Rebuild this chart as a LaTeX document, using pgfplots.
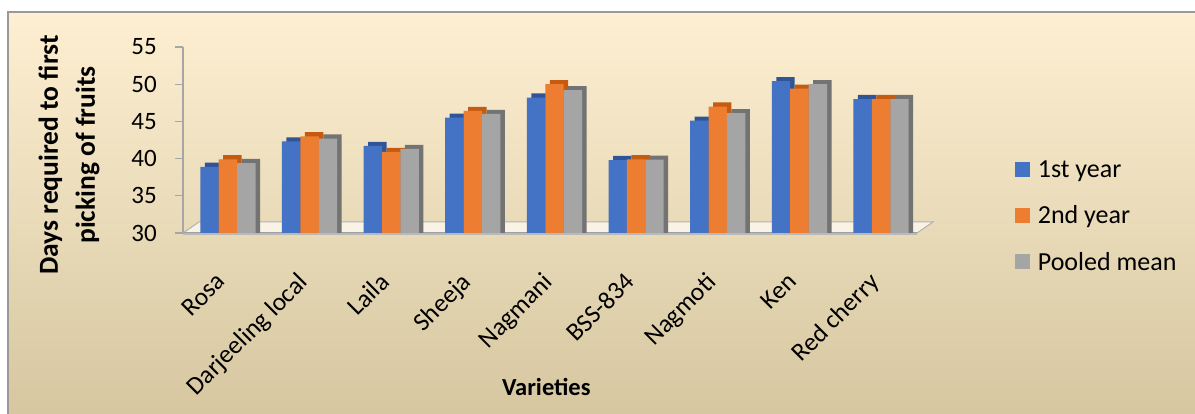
\documentclass[border=0pt]{standalone}
\usepackage{pgfplots}
\pgfplotsset{compat=1.18}
\usepackage{pgfplotstable}
\usepackage{fontspec}
\setmainfont{Carlito}
\definecolor{cBlue}{HTML}{4472C4}
\definecolor{cOrange}{HTML}{ED7D31}
\definecolor{cGrey}{HTML}{A5A5A5}
\definecolor{sBlue}{HTML}{2F5597}
\definecolor{sOrange}{HTML}{C55A11}
\definecolor{sGrey}{HTML}{737373}
\definecolor{bgTop}{HTML}{FEEFD2}
\definecolor{bgMid}{HTML}{F3EAD4}
\definecolor{bgBot}{HTML}{D6C7A1}
\definecolor{axGrey}{HTML}{A6A6A6}

\pgfplotstableread{
x v1 v2 v3
0 38.9 39.9 39.4
1 42.3 43.0 42.7
2 41.7 40.9 41.3
3 45.5 46.4 46.0
4 48.2 50.0 49.2
5 39.8 39.9 39.85
6 45.1 47.0 46.1
7 50.4 49.4 50.0
8 48.0 48.0 48.0
}\datatable

\begin{document}
\begin{tikzpicture}[x=1pt,y=1pt]
\useasboundingbox (0,0) rectangle (1195,414);
\fill[white] (0,0) rectangle (1195,414);
\shade[top color=bgTop, middle color=bgMid, bottom color=bgBot] (8,0) rectangle (1195,402);
\draw[gray!80, line width=1.2pt] (8,0) -- (8,402) -- (1195,402);
% floor
\fill[bgMid!60!white] (183,181) -- (917,181) -- (933,192) -- (199,192) -- cycle;
\draw[gray!60, line width=1pt] (183,181) -- (199,192) -- (933,192) -- (917,181);
\draw[gray!55, line width=3pt] (183,180) -- (917,180);
\draw[gray!75, line width=0.8pt] (183,181.5) -- (917,181.5);
\begin{axis}[
  at={(183pt,181pt)}, anchor=south west,
  scale only axis, width=734pt, height=186pt,
  xmin=-0.55, xmax=8.44, ymin=30, ymax=55,
  ytick={30,35,...,55},
  xtick={0,...,8},
  xticklabels={Rosa,Darjeeling local,Laila,Sheeja,Nagmani,BSS-834,Nagmoti,Ken,Red cherry},
  axis y line*=left, axis x line*=bottom,
  x axis line style={draw=none},
  y axis line style={axGrey, line width=1.2pt},
  ytick style={axGrey, line width=1.2pt},
  major x tick style={draw=none},
  tick align=outside, major tick length=8pt,
  /pgf/number format/assume math mode=true,
  yticklabel style={font=\fontsize{25}{28}\selectfont, inner sep=0pt, anchor=east, xshift=-18pt},
  xticklabel style={font=\fontsize{25.5}{28}\selectfont, inner sep=0pt, xshift=-13pt, yshift=-30pt, rotate=45, anchor=north east},
  ylabel={Days required to first\\picking of fruits},
  ylabel style={font=\bfseries\fontsize{27.5}{37}\selectfont, align=center, at={(axis description cs:-0.1553,0.419)}, anchor=center, rotate=0},
  xlabel={Varieties},
  xlabel style={font=\bfseries\fontsize{24.5}{27}\selectfont, at={(axis description cs:0.495,-0.83)}, anchor=center},
  ybar, bar width=18.4pt,
  legend style={draw=none, fill=none, at={(axis description cs:1.133,0.0914)}, anchor=west,
    font=\fontsize{26}{29}\selectfont, row sep=23pt, inner sep=0pt,
    /tikz/every odd column/.append style={column sep=6pt}},
  legend cell align=left,
  legend image code/.code={\fill[#1] (0pt,-7.5pt) rectangle (15pt,7.5pt);},
]
\addplot[draw=none, fill=sBlue, bar shift=-13.9pt, forget plot] table[x=x, y expr=\thisrow{v1}+0.55] {\datatable};
\addplot[draw=none, fill=cBlue, bar shift=-18.4pt] table[x=x, y=v1] {\datatable};
\addplot[draw=none, fill=sOrange, bar shift=4.5pt, forget plot] table[x=x, y expr=\thisrow{v2}+0.55] {\datatable};
\addplot[draw=none, fill=cOrange, bar shift=0pt] table[x=x, y=v2] {\datatable};
\addplot[draw=none, fill=sGrey, bar shift=22.9pt, forget plot] table[x=x, y expr=\thisrow{v3}+0.55] {\datatable};
\addplot[draw=none, fill=cGrey, bar shift=18.4pt] table[x=x, y=v3] {\datatable};
\legend{1st year,2nd year,Pooled mean}
\end{axis}
\end{tikzpicture}
\end{document}
